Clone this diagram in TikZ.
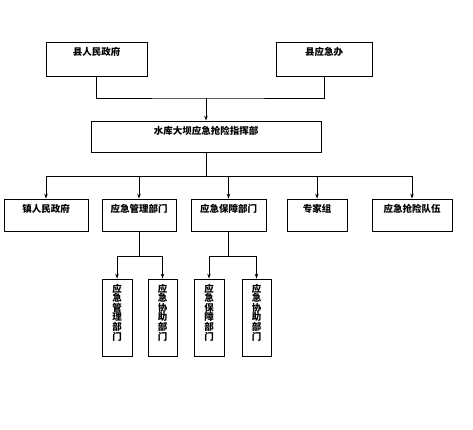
\documentclass[tikz,border=0pt]{standalone}
\usepackage{fontspec}
\newfontfamily\cjk{Noto Sans CJK SC}
\usetikzlibrary{arrows.meta}
\tikzset{
  box/.style={draw, line width=0.8pt, minimum height=#1, inner sep=0pt},
  box/.default=33pt,
  conn/.style={line width=0.7pt},
  arr/.style={conn, -{Stealth[length=5pt,width=3.5pt]}},
  txt/.style={label={[anchor=north, yshift=-5pt, inner sep=0pt, align=center]north:#1}}
}
\begin{document}
\begin{tikzpicture}[x=1pt, y=-1pt, font=\cjk\bfseries\fontsize{9.5}{9.6}\selectfont]
    \useasboundingbox (0,0) rectangle (473,429);
    \node[box=34pt, minimum width=101pt, txt=县人民政府] (gov) at (96.5,59) {};
    \node[box=34pt, minimum width=96pt, txt=县应急办] (office) at (324,59) {};
    \node[box=31pt, minimum width=230pt, txt=水库大坝应急抢险指挥部] (hq) at (206,136.5) {};
    \node[box=32pt, minimum width=84pt, txt=镇人民政府] (town) at (46,215) {};
    \node[box=32pt, minimum width=74pt, txt=应急管理部门] (mgmt) at (139,215) {};
    \node[box=32pt, minimum width=75pt, txt=应急保障部门] (supp) at (228.5,215) {};
    \node[box=32pt, minimum width=60pt, txt=专家组] (expert) at (317,215) {};
    \node[box=32pt, minimum width=80pt, txt=应急抢险队伍] (team) at (412,215) {};
    \node[box=77pt, minimum width=30pt, txt={应\\急\\管\\理\\部\\门}] (ma) at (117,317.5) {};
    \node[box=77pt, minimum width=29pt, txt={应\\急\\协\\助\\部\\门}] (mb) at (162.5,317.5) {};
    \node[box=77pt, minimum width=30pt, txt={应\\急\\保\\障\\部\\门}] (sa) at (209,317.5) {};
    \node[box=77pt, minimum width=29pt, txt={应\\急\\协\\助\\部\\门}] (sb) at (256.5,317.5) {};
    \coordinate (j1) at (206,98);
    \coordinate (j2) at (206,176);
    \coordinate (j3) at (0,256);
    \draw[conn] (gov.south) |- (j1) -| (office.south);
    \draw[arr] (j1) -- (hq.north);
    \draw[conn] (hq.south) -- (j2);
    \draw[conn] (town.north |- j2) -- (team.north |- j2);
    \foreach \n in {town,mgmt,supp,expert,team}
        \draw[arr] (\n.north |- j2) -- (\n.north);
    \draw[conn] (mgmt.south) -- (mgmt.south |- j3);
    \draw[conn] (supp.south) -- (supp.south |- j3);
    \draw[conn] (ma.north |- j3) -- (mb.north |- j3);
    \draw[conn] (sa.north |- j3) -- (sb.north |- j3);
    \foreach \n in {ma,mb,sa,sb}
        \draw[arr] (\n.north |- j3) -- (\n.north);
\end{tikzpicture}
\end{document}
